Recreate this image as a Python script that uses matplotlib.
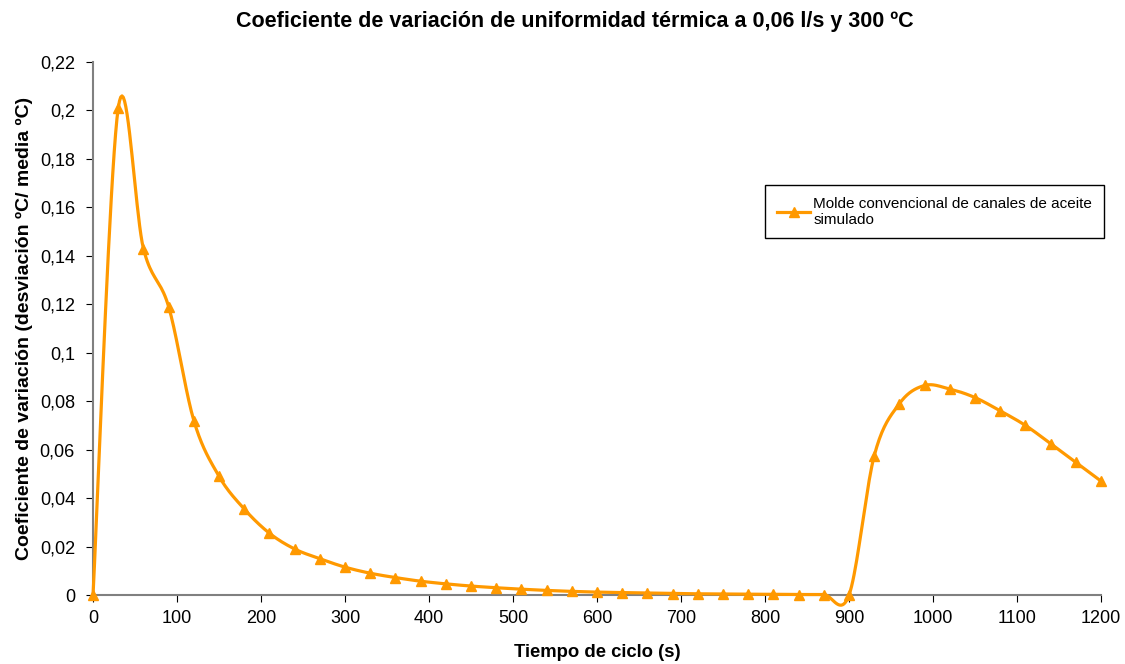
import matplotlib.pyplot as plt
from matplotlib.ticker import FuncFormatter
import numpy as np

plt.rcParams['font.family'] = ['Liberation Sans', 'DejaVu Sans']

tiempo = list(range(0, 1201, 30))
coef = [0, 0.201, 0.143, 0.119, 0.072, 0.049, 0.0355, 0.0255, 0.019, 0.015,
        0.0115, 0.009, 0.0072, 0.0057, 0.0046, 0.0037, 0.003, 0.0024, 0.0019, 0.0015,
        0.0012, 0.001, 0.0008, 0.0006, 0.0005, 0.0004, 0.0003, 0.0003, 0.0002, 0.0002,
        0, 0.0575, 0.079, 0.0865, 0.085, 0.0815, 0.076, 0.070, 0.0625, 0.0548, 0.047]
serie = "Molde convencional de canales de aceite\nsimulado"
color = '#FF9900'


def smooth(x, y, n=20):
    # Bezier smoothing similar to Excel's "smoothed line"
    x = np.asarray(x, float)
    y = np.asarray(y, float)
    px = np.concatenate([[x[0]], x, [x[-1]]])
    py = np.concatenate([[y[0]], y, [y[-1]]])
    xs, ys = [], []
    t = np.linspace(0, 1, n, endpoint=False)
    for i in range(1, len(px) - 2):
        p0, p1, p2, p3 = (np.array([px[j], py[j]]) for j in (i - 1, i, i + 1, i + 2))
        c1 = p1 + (p2 - p0) / 6
        c2 = p2 - (p3 - p1) / 6
        b = ((1 - t) ** 3)[:, None] * p1 + (3 * (1 - t) ** 2 * t)[:, None] * c1 \
            + (3 * (1 - t) * t ** 2)[:, None] * c2 + (t ** 3)[:, None] * p2
        xs.extend(b[:, 0])
        ys.extend(b[:, 1])
    xs.append(x[-1])
    ys.append(y[-1])
    return xs, ys


fig = plt.figure(figsize=(11.25, 6.64), dpi=100)
ax = fig.add_axes([0.0827, 0.1039, 0.896, 0.8027])

sx, sy = smooth(tiempo, coef)
ax.plot(sx, sy, color=color, linewidth=2.3, zorder=3, clip_on=False)
ax.plot(tiempo, coef, linestyle='none', marker='^', markersize=7, color=color,
        zorder=4, clip_on=False)
ax.plot([], [], color=color, linewidth=2.3, marker='^', markersize=7, label=serie)

ax.set_xlim(0, 1200)
ax.set_ylim(0, 0.22)
ax.set_xticks(range(0, 1201, 100))
ax.set_yticks(np.arange(0, 0.2201, 0.02))

def fmt(v, pos):
    s = ('%.2f' % v).rstrip('0').rstrip('.')
    return s.replace('.', ',')

ax.yaxis.set_major_formatter(FuncFormatter(fmt))
for s in ['top', 'right']:
    ax.spines[s].set_visible(False)
for s in ['left', 'bottom']:
    ax.spines[s].set_color('#808080')
    ax.spines[s].set_linewidth(1.5)
    ax.spines[s].set_zorder(2)
ax.tick_params(direction='out', length=5, labelsize=13, color='black')
ax.tick_params(axis='y', pad=8)
ax.tick_params(axis='x', pad=6)

ax.set_title("Coeficiente de variación de uniformidad térmica a 0,06 l/s y 300 ºC",
             fontsize=15.5, fontweight='bold', pad=25, x=0.478)
ax.set_xlabel("Tiempo de ciclo (s)", fontsize=13.3, fontweight='bold', labelpad=12)
ax.set_ylabel("Coeficiente de variación (desviación ºC/ media ºC)", fontsize=14,
              fontweight='bold', labelpad=5)

leg = ax.legend(loc='upper left', bbox_to_anchor=(0.667, 0.769), fontsize=11,
                fancybox=False, framealpha=1, edgecolor='black', handlelength=2.2,
                handletextpad=0.2, borderpad=0.75, borderaxespad=0)
leg.get_frame().set_linewidth(1)

fig.savefig('out.png', dpi=100)
